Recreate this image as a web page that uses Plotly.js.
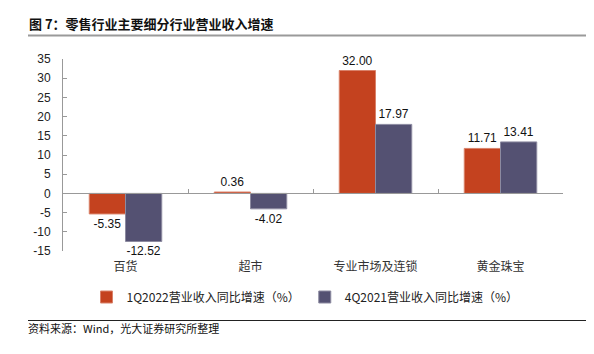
<!DOCTYPE html>
<html>
<head>
<meta charset="utf-8">
<script src="https://cdn.plot.ly/plotly-3.0.1.min.js"></script>
<style>
html,body{margin:0;padding:0;background:#fff;}
#chart{width:594px;height:354px;}
</style>
</head>
<body>
<div id="chart"></div>
<script>
const categories = ["百货", "超市", "专业市场及连锁", "黄金珠宝"];
const series1Name = "1Q2022营业收入同比增速（%）";
const series1 = [-5.35, 0.36, 32.00, 11.71];
const series2Name = "4Q2021营业收入同比增速（%）";
const series2 = [-12.52, -4.02, 17.97, 13.41];
const yTicks = [-15, -10, -5, 0, 5, 10, 15, 20, 25, 30, 35];

const textFont = {family: "Liberation Sans, Arial, sans-serif", size: 12, color: "#111"};

const traces = [
  {
    type: "bar", name: series1Name, x: categories, y: series1,
    marker: {color: "#C4421F", line: {color: "#D9826A", width: 1}},
    text: series1.map(v => v.toFixed(2)), textposition: "outside",
    textfont: textFont, cliponaxis: false
  },
  {
    type: "bar", name: series2Name, x: categories, y: series2,
    marker: {color: "#545172", line: {color: "#8C8AA0", width: 1}},
    text: series2.map(v => v.toFixed(2)), textposition: "outside",
    textfont: textFont, cliponaxis: false
  }
];

const layout = {
  width: 594, height: 354,
  margin: {l: 63, r: 31, t: 59, b: 103},
  paper_bgcolor: "#fff", plot_bgcolor: "#fff",
  barmode: "group", bargap: 0.42, bargroupgap: 0,
  showlegend: true,
  legend: {
    orientation: "h", x: 0.5, xanchor: "center", y: -0.24, yanchor: "middle",
    font: {family: "Noto Sans CJK SC, Liberation Sans, sans-serif", size: 12, color: "#222"},
    itemwidth: 30, tracegroupgap: 0
  },
  xaxis: {
    type: "category", anchor: "free", position: 0.3,
    showline: true, linecolor: "#999", linewidth: 1,
    ticks: "inside", tickson: "boundaries", ticklen: 4, tickcolor: "#999",
    ticklabelstandoff: 62,
    tickfont: {family: "Noto Sans CJK SC, sans-serif", size: 12, color: "#333"},
    showgrid: false, zeroline: false, fixedrange: true
  },
  yaxis: {
    range: [-15, 35], tickvals: yTicks, ticktext: yTicks.map(String),
    showline: true, linecolor: "#999", linewidth: 1,
    ticks: "inside", ticklen: 4, tickcolor: "#999", ticklabelstandoff: 9,
    tickfont: {family: "Liberation Sans, Arial, sans-serif", size: 12, color: "#222"},
    showgrid: false, zeroline: true, zerolinecolor: "#999", zerolinewidth: 1
  },
  annotations: [
    {
      text: "<b>图 7：零售行业主要细分行业营业收入增速</b>", xref: "paper", yref: "paper",
      x: 0, y: 0, xanchor: "left", yanchor: "middle", showarrow: false,
      font: {family: "Noto Sans CJK SC, sans-serif", size: 13, color: "#111"}
    },
    {
      text: "资料来源：Wind，光大证券研究所整理", xref: "paper", yref: "paper",
      x: 0, y: 0, xanchor: "left", yanchor: "middle", showarrow: false,
      font: {family: "Noto Sans CJK SC, sans-serif", size: 11, color: "#111"}
    }
  ],
  shapes: []
};

// position header/footer in pixel terms converted to paper coords
const plotW = 594 - 63 - 31, plotH = 354 - 59 - 103;
const px = (x) => (x - 63) / plotW;
const py = (y) => (354 - 103 - y) / plotH;
layout.annotations[0].x = px(27); layout.annotations[0].y = py(23);
layout.annotations[1].x = px(26); layout.annotations[1].y = py(328);
layout.legend.y = py(297);
layout.legend.x = px(305);
layout.shapes.push(
  {type: "line", xref: "paper", yref: "paper", x0: px(28), x1: px(586), y0: py(35.5), y1: py(35.5),
   line: {color: "#9a9a9a", width: 2}},
  {type: "line", xref: "paper", yref: "paper", x0: px(28), x1: px(586), y0: py(320.5), y1: py(320.5),
   line: {color: "#222", width: 1}}
);

Plotly.newPlot("chart", traces, layout, {displayModeBar: false, staticPlot: true});
</script>
</body>
</html>
